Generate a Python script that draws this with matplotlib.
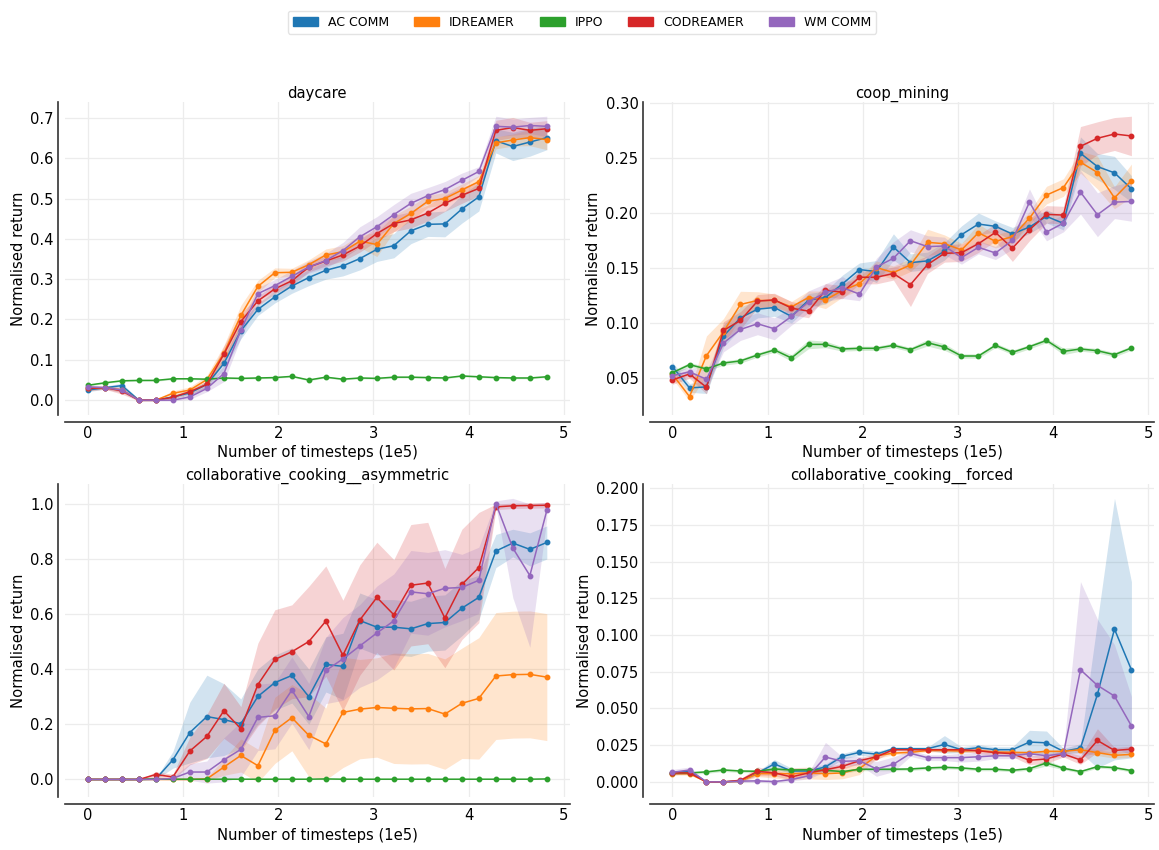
import matplotlib
matplotlib.use("Agg")
import matplotlib.pyplot as plt
import matplotlib.patches as mpatches
import numpy as np

timesteps = [0.000, 0.179, 0.357, 0.536, 0.714, 0.893, 1.071, 1.250, 1.429, 1.607,
             1.786, 1.964, 2.143, 2.321, 2.500, 2.679, 2.857, 3.036, 3.214, 3.393,
             3.571, 3.750, 3.929, 4.107, 4.286, 4.464, 4.643, 4.821]

methods = ["AC COMM", "IDREAMER", "IPPO", "CODREAMER", "WM COMM"]
colors = ["#1f77b4", "#ff7f0e", "#2ca02c", "#d62728", "#9467bd"]
titles = ["daycare", "coop_mining", "collaborative_cooking__asymmetric", "collaborative_cooking__forced"]

# ---------------- daycare ----------------
dc_ac = [0.025, 0.031, 0.036, 0.0, 0.0, 0.008, 0.018, 0.039, 0.091, 0.172, 0.225, 0.256, 0.283, 0.304,
         0.322, 0.333, 0.351, 0.374, 0.383, 0.420, 0.436, 0.437, 0.474, 0.504, 0.643, 0.629, 0.640, 0.651]
dc_id = [0.029, 0.031, 0.025, 0.0, 0.0, 0.017, 0.025, 0.051, 0.116, 0.210, 0.282, 0.316, 0.317, 0.336,
         0.360, 0.368, 0.394, 0.386, 0.438, 0.463, 0.493, 0.500, 0.521, 0.542, 0.638, 0.645, 0.651, 0.646]
dc_ippo = [0.037, 0.043, 0.048, 0.049, 0.049, 0.053, 0.053, 0.052, 0.055, 0.054, 0.055, 0.056, 0.059, 0.050,
           0.057, 0.052, 0.055, 0.054, 0.057, 0.057, 0.056, 0.055, 0.060, 0.058, 0.056, 0.055, 0.055, 0.058]
dc_co = [0.029, 0.031, 0.023, 0.0, 0.0, 0.007, 0.021, 0.039, 0.114, 0.195, 0.246, 0.276, 0.296, 0.330,
         0.345, 0.360, 0.382, 0.413, 0.438, 0.447, 0.464, 0.488, 0.508, 0.525, 0.669, 0.676, 0.669, 0.673]
dc_wm = [0.033, 0.031, 0.025, 0.0, 0.0, 0.0, 0.008, 0.029, 0.066, 0.174, 0.264, 0.284, 0.307, 0.330,
         0.346, 0.371, 0.405, 0.430, 0.460, 0.488, 0.507, 0.522, 0.545, 0.567, 0.679, 0.677, 0.681, 0.679]
dc_ac_err = [0.004, 0.004, 0.006, 0.002, 0.002, 0.004, 0.006, 0.008, 0.015, 0.02, 0.015, 0.015, 0.018, 0.02,
             0.022, 0.025, 0.028, 0.03, 0.03, 0.032, 0.03, 0.032, 0.035, 0.035, 0.03, 0.035, 0.035, 0.03]
dc_id_err = [0.004, 0.004, 0.005, 0.002, 0.002, 0.006, 0.008, 0.01, 0.02, 0.025, 0.015, 0.012, 0.01, 0.012,
             0.015, 0.015, 0.015, 0.03, 0.02, 0.018, 0.015, 0.015, 0.015, 0.015, 0.015, 0.015, 0.02, 0.025]
dc_ippo_err = [0.002, 0.002, 0.002, 0.002, 0.002, 0.002, 0.002, 0.002, 0.002, 0.002, 0.002, 0.002, 0.002, 0.002,
               0.002, 0.002, 0.002, 0.002, 0.002, 0.002, 0.002, 0.002, 0.002, 0.002, 0.002, 0.002, 0.002, 0.002]
dc_co_err = [0.006, 0.004, 0.008, 0.002, 0.002, 0.004, 0.006, 0.008, 0.02, 0.02, 0.012, 0.012, 0.012, 0.012,
             0.012, 0.015, 0.015, 0.018, 0.02, 0.02, 0.02, 0.02, 0.02, 0.018, 0.025, 0.025, 0.02, 0.02]
dc_wm_err = [0.005, 0.004, 0.006, 0.002, 0.002, 0.002, 0.006, 0.008, 0.02, 0.02, 0.015, 0.015, 0.015, 0.015,
             0.018, 0.02, 0.025, 0.025, 0.025, 0.025, 0.02, 0.02, 0.018, 0.012, 0.025, 0.02, 0.02, 0.025]

# ---------------- coop_mining ----------------
cm_ac = [0.0600, 0.0406, 0.0415, 0.0879, 0.1045, 0.1124, 0.1139, 0.1058, 0.1206, 0.1230, 0.1355, 0.1485, 0.1467, 0.1691,
         0.1548, 0.1564, 0.1651, 0.1803, 0.1900, 0.1879, 0.1809, 0.1873, 0.1970, 0.1906, 0.2545, 0.2424, 0.2367, 0.2221]
cm_id = [0.0530, 0.0327, 0.0700, 0.0918, 0.1167, 0.1203, 0.1203, 0.1145, 0.1230, 0.1209, 0.1294, 0.1357, 0.1503, 0.1458,
         0.1527, 0.1733, 0.1721, 0.1664, 0.1821, 0.1742, 0.1785, 0.1954, 0.2164, 0.2233, 0.2464, 0.2370, 0.2139, 0.2297]
cm_ippo = [0.0545, 0.0618, 0.0579, 0.0633, 0.0652, 0.0706, 0.0752, 0.0679, 0.0803, 0.0803, 0.0761, 0.0767, 0.0767, 0.0794,
           0.0755, 0.0818, 0.0779, 0.0697, 0.0697, 0.0794, 0.0730, 0.0782, 0.0839, 0.0739, 0.0761, 0.0745, 0.0709, 0.0770]
cm_co = [0.0479, 0.0533, 0.0412, 0.0930, 0.1021, 0.1197, 0.1209, 0.1133, 0.1106, 0.1297, 0.1279, 0.1415, 0.1415, 0.1449,
         0.1348, 0.1530, 0.1633, 0.1639, 0.1721, 0.1824, 0.1679, 0.1848, 0.1988, 0.1982, 0.2609, 0.2682, 0.2721, 0.2703]
cm_wm = [0.0518, 0.0552, 0.0485, 0.0815, 0.0939, 0.0991, 0.0945, 0.1058, 0.1191, 0.1276, 0.1321, 0.1261, 0.1509, 0.1588,
         0.1748, 0.1694, 0.1700, 0.1594, 0.1688, 0.1636, 0.1752, 0.2100, 0.1827, 0.1909, 0.2191, 0.1985, 0.2100, 0.2106]
cm_ac_err = [0.004, 0.004, 0.006, 0.01, 0.01, 0.008, 0.008, 0.006, 0.006, 0.006, 0.008, 0.006, 0.01, 0.012,
             0.008, 0.008, 0.008, 0.008, 0.01, 0.005, 0.006, 0.006, 0.006, 0.006, 0.015, 0.012, 0.015, 0.012]
cm_id_err = [0.004, 0.004, 0.018, 0.012, 0.012, 0.008, 0.006, 0.005, 0.006, 0.008, 0.006, 0.006, 0.006, 0.006,
             0.006, 0.012, 0.008, 0.006, 0.008, 0.006, 0.006, 0.006, 0.008, 0.008, 0.01, 0.015, 0.01, 0.015]
cm_ippo_err = [0.002, 0.002, 0.002, 0.002, 0.002, 0.002, 0.002, 0.003, 0.004, 0.003, 0.002, 0.002, 0.002, 0.002,
               0.002, 0.003, 0.003, 0.002, 0.002, 0.002, 0.002, 0.002, 0.002, 0.003, 0.002, 0.002, 0.002, 0.002]
cm_co_err = [0.004, 0.004, 0.006, 0.008, 0.008, 0.006, 0.006, 0.006, 0.006, 0.006, 0.006, 0.006, 0.006, 0.006,
             0.02, 0.008, 0.008, 0.008, 0.008, 0.008, 0.012, 0.01, 0.008, 0.008, 0.018, 0.015, 0.015, 0.018]
cm_wm_err = [0.004, 0.004, 0.008, 0.008, 0.01, 0.01, 0.01, 0.008, 0.01, 0.008, 0.01, 0.006, 0.008, 0.015,
             0.01, 0.01, 0.008, 0.006, 0.006, 0.006, 0.008, 0.012, 0.008, 0.008, 0.02, 0.02, 0.015, 0.018]

# ---------------- collaborative_cooking__asymmetric ----------------
ca_ac = [0.0, 0.0, 0.0, 0.0, 0.002, 0.071, 0.170, 0.228, 0.217, 0.202, 0.301, 0.351, 0.377, 0.300,
         0.417, 0.410, 0.576, 0.552, 0.552, 0.546, 0.565, 0.569, 0.621, 0.660, 0.828, 0.857, 0.834, 0.859]
ca_id = [0.0, 0.0, 0.0, 0.0, 0.0, 0.0, 0.0, 0.002, 0.045, 0.087, 0.050, 0.178, 0.224, 0.160,
         0.129, 0.243, 0.255, 0.261, 0.258, 0.256, 0.257, 0.237, 0.276, 0.294, 0.375, 0.380, 0.381, 0.371]
ca_ippo = [0.0, 0.0, 0.0, 0.0, 0.001, 0.001, 0.001, 0.001, 0.001, 0.001, 0.001, 0.001, 0.001, 0.001,
           0.002, 0.001, 0.001, 0.001, 0.001, 0.001, 0.001, 0.001, 0.001, 0.001, 0.001, 0.001, 0.001, 0.002]
ca_co = [0.0, 0.0, 0.0, 0.0, 0.018, 0.009, 0.103, 0.156, 0.249, 0.184, 0.344, 0.435, 0.463, 0.500,
         0.574, 0.450, 0.578, 0.660, 0.597, 0.704, 0.712, 0.585, 0.707, 0.768, 0.988, 0.992, 0.993, 0.994]
ca_wm = [0.0, 0.0, 0.0, 0.0, 0.0, 0.004, 0.027, 0.027, 0.071, 0.109, 0.225, 0.231, 0.324, 0.228,
         0.395, 0.437, 0.484, 0.531, 0.575, 0.680, 0.673, 0.693, 0.696, 0.722, 1.0, 0.839, 0.739, 0.975]
ca_ac_err = [0.0, 0.0, 0.0, 0.0, 0.002, 0.03, 0.11, 0.15, 0.13, 0.09, 0.1, 0.1, 0.1, 0.1,
             0.1, 0.12, 0.1, 0.1, 0.1, 0.1, 0.1, 0.1, 0.1, 0.08, 0.06, 0.05, 0.06, 0.06]
ca_id_err = [0.0, 0.0, 0.0, 0.0, 0.0, 0.0, 0.0, 0.005, 0.03, 0.06, 0.06, 0.12, 0.12, 0.15,
             0.13, 0.2, 0.18, 0.18, 0.2, 0.2, 0.2, 0.2, 0.2, 0.22, 0.23, 0.23, 0.23, 0.23]
ca_ippo_err = [0.0, 0.0, 0.0, 0.0, 0.001, 0.001, 0.001, 0.001, 0.001, 0.001, 0.001, 0.001, 0.001, 0.001,
               0.001, 0.001, 0.001, 0.001, 0.001, 0.001, 0.001, 0.001, 0.001, 0.001, 0.001, 0.001, 0.001, 0.001]
ca_co_err = [0.0, 0.0, 0.0, 0.0, 0.01, 0.01, 0.05, 0.08, 0.1, 0.08, 0.15, 0.18, 0.17, 0.2,
             0.2, 0.2, 0.2, 0.2, 0.2, 0.22, 0.22, 0.18, 0.2, 0.2, 0.01, 0.01, 0.01, 0.01]
ca_wm_err = [0.0, 0.0, 0.0, 0.0, 0.0, 0.005, 0.03, 0.04, 0.08, 0.1, 0.12, 0.12, 0.12, 0.12,
             0.12, 0.15, 0.15, 0.17, 0.17, 0.15, 0.15, 0.14, 0.12, 0.12, 0.01, 0.18, 0.26, 0.03]

# ---------------- collaborative_cooking__forced ----------------
cf_ac = [0.0063, 0.0074, 0.0, 0.0, 0.0007, 0.0061, 0.0122, 0.0074, 0.0074, 0.0102, 0.0174, 0.0201, 0.0189, 0.0226,
         0.0226, 0.0226, 0.0255, 0.0219, 0.0233, 0.0219, 0.0219, 0.0271, 0.0266, 0.0208, 0.0230, 0.0596, 0.1040, 0.0763]
cf_id = [0.0056, 0.0056, 0.0, 0.0, 0.0005, 0.0056, 0.0056, 0.0056, 0.0061, 0.0056, 0.0061, 0.0090, 0.0178, 0.0196,
         0.0201, 0.0214, 0.0214, 0.0210, 0.0214, 0.0203, 0.0201, 0.0199, 0.0208, 0.0208, 0.0219, 0.0199, 0.0181, 0.0187]
cf_ippo = [0.0061, 0.0061, 0.0068, 0.0081, 0.0074, 0.0072, 0.0088, 0.0081, 0.0083, 0.0079, 0.0070, 0.0086, 0.0086, 0.0086,
           0.0088, 0.0095, 0.0099, 0.0095, 0.0086, 0.0086, 0.0079, 0.0090, 0.0129, 0.0093, 0.0070, 0.0104, 0.0097, 0.0077]
cf_co = [0.0061, 0.0061, 0.0, 0.0, 0.0011, 0.0072, 0.0061, 0.0034, 0.0061, 0.0083, 0.0106, 0.0144, 0.0171, 0.0219,
         0.0219, 0.0219, 0.0219, 0.0219, 0.0212, 0.0199, 0.0192, 0.0147, 0.0156, 0.0190, 0.0149, 0.0282, 0.0214, 0.0223]
cf_wm = [0.0065, 0.0081, 0.0, 0.0, 0.0005, 0.0007, 0.0002, 0.0016, 0.0041, 0.0169, 0.0140, 0.0144, 0.0088, 0.0120,
         0.0194, 0.0165, 0.0165, 0.0165, 0.0171, 0.0178, 0.0178, 0.0192, 0.0178, 0.0192, 0.0763, 0.0657, 0.0584, 0.0381]
cf_ac_err = [0.001, 0.001, 0.0, 0.0, 0.001, 0.001, 0.003, 0.002, 0.002, 0.002, 0.002, 0.002, 0.002, 0.001,
             0.001, 0.001, 0.006, 0.002, 0.002, 0.002, 0.002, 0.008, 0.008, 0.002, 0.003, 0.05, 0.089, 0.06]
cf_id_err = [0.001, 0.001, 0.0, 0.0, 0.001, 0.002, 0.003, 0.004, 0.004, 0.004, 0.004, 0.004, 0.002, 0.001,
             0.001, 0.001, 0.001, 0.001, 0.001, 0.001, 0.001, 0.001, 0.001, 0.001, 0.002, 0.002, 0.002, 0.002]
cf_ippo_err = [0.001, 0.001, 0.001, 0.001, 0.001, 0.001, 0.001, 0.001, 0.001, 0.001, 0.001, 0.001, 0.001, 0.001,
               0.001, 0.001, 0.001, 0.001, 0.001, 0.001, 0.001, 0.001, 0.002, 0.001, 0.001, 0.001, 0.001, 0.001]
cf_co_err = [0.001, 0.001, 0.0, 0.0, 0.001, 0.003, 0.002, 0.002, 0.002, 0.002, 0.002, 0.002, 0.002, 0.001,
             0.001, 0.001, 0.001, 0.001, 0.002, 0.002, 0.002, 0.003, 0.003, 0.002, 0.003, 0.008, 0.002, 0.002]
cf_wm_err = [0.002, 0.002, 0.0, 0.0, 0.001, 0.001, 0.001, 0.001, 0.002, 0.01, 0.003, 0.003, 0.005, 0.005,
             0.002, 0.002, 0.002, 0.003, 0.003, 0.002, 0.002, 0.002, 0.002, 0.002, 0.06, 0.045, 0.035, 0.02]

panels = [
    ([dc_ac, dc_id, dc_ippo, dc_co, dc_wm], [dc_ac_err, dc_id_err, dc_ippo_err, dc_co_err, dc_wm_err]),
    ([cm_ac, cm_id, cm_ippo, cm_co, cm_wm], [cm_ac_err, cm_id_err, cm_ippo_err, cm_co_err, cm_wm_err]),
    ([ca_ac, ca_id, ca_ippo, ca_co, ca_wm], [ca_ac_err, ca_id_err, ca_ippo_err, ca_co_err, ca_wm_err]),
    ([cf_ac, cf_id, cf_ippo, cf_co, cf_wm], [cf_ac_err, cf_id_err, cf_ippo_err, cf_co_err, cf_wm_err]),
]

plt.rcParams['font.family'] = ['DejaVu Sans']
FS = 10.6
fig, axes = plt.subplots(2, 2, figsize=(11.59, 8.5), dpi=100)
fig.subplots_adjust(left=0.056, right=0.996, top=0.88, bottom=0.062, wspace=0.158, hspace=0.22)

x = np.array(timesteps)
for ax, title, (means, errs) in zip(axes.flat, titles, panels):
    for m, e, c in zip(means, errs, colors):
        m = np.array(m); e = np.array(e)
        ax.fill_between(x, m - e, m + e, color=c, alpha=0.2, linewidth=0)
        ax.plot(x, m, color=c, linewidth=1.1, marker='o', markersize=3.2)
    ax.set_title(title, fontsize=FS, pad=3)
    ax.set_xlabel("Number of timesteps (1e5)", fontsize=FS, labelpad=3)
    ax.set_ylabel("Normalised return", fontsize=FS, labelpad=3)
    ax.set_xticks([0, 1, 2, 3, 4, 5])
    ax.grid(True, color="#ececec", linewidth=0.9)
    ax.set_axisbelow(True)
    ax.tick_params(length=0, labelsize=FS, pad=3)
    for s in ["top", "right"]:
        ax.spines[s].set_visible(False)
    for s in ["left", "bottom"]:
        ax.spines[s].set_position(("outward", 5))
        ax.spines[s].set_linewidth(1.2)
        ax.spines[s].set_color("#333333")

handles = [mpatches.Patch(color=c, label=l) for c, l in zip(colors, methods)]
fig.legend(handles=handles, loc="upper center", bbox_to_anchor=(0.502, 0.995), ncol=5,
           fontsize=9, frameon=True, fancybox=True, edgecolor="#dddddd")

fig.savefig("out.png", dpi=100)
